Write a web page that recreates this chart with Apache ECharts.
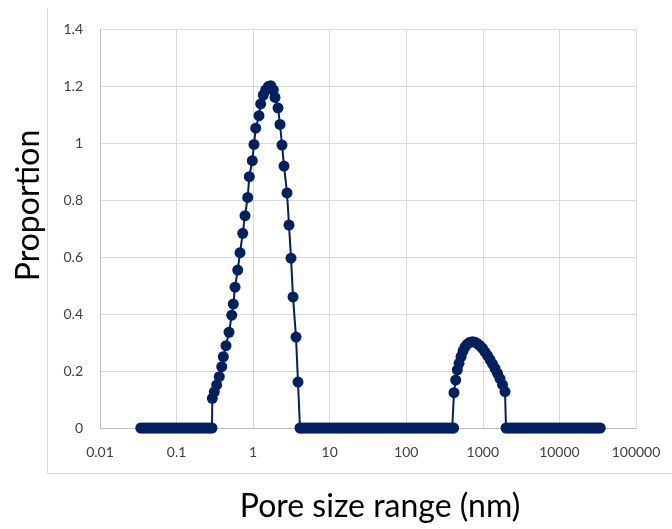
<!DOCTYPE html>
<html style="height: 100%">
<head>
<meta charset="utf-8">
</head>
<body style="height: 100%; margin: 0; background: #fff">
<div id="container" style="width: 672px; height: 529px"></div>
<script src="https://cdn.jsdelivr.net/npm/echarts@6/dist/echarts.min.js"></script>
<script>
// pore size (nm)
var poreSize = [
  // zeros before first peak
  0.0341, 0.0369, 0.0398, 0.043, 0.0464, 0.0501, 0.0541, 0.0584, 0.0631, 0.0681,
  0.0736, 0.0794, 0.0858, 0.0926, 0.1, 0.108, 0.117, 0.126, 0.136, 0.147,
  0.158, 0.171, 0.185, 0.2, 0.215, 0.233, 0.251, 0.271, 0.29,
  // first peak
  0.293, 0.311, 0.334, 0.361, 0.389, 0.408, 0.442, 0.484, 0.525, 0.551,
  0.58, 0.629, 0.674, 0.731, 0.783, 0.849, 0.891, 0.975, 1.026, 1.08,
  1.193, 1.255, 1.357, 1.459, 1.578, 1.696, 1.834, 1.93, 2.112, 2.243,
  2.382, 2.53, 2.769, 2.94, 3.122, 3.316, 3.628, 3.853,
  // zeros between peaks
  4.09, 4.3, 4.64, 5.01, 5.41, 5.84, 6.31, 6.81, 7.36, 7.94,
  8.58, 9.26, 10, 10.8, 11.7, 12.6, 13.6, 14.7, 15.8, 17.1,
  18.5, 20, 21.5, 23.3, 25.1, 27.1, 29.3, 31.6, 34.1, 36.9,
  39.8, 43, 46.4, 50.1, 54.1, 58.4, 63.1, 68.1, 73.6, 79.4,
  85.8, 92.6, 100, 108, 117, 126, 136, 147, 158, 171,
  185, 200, 215, 233, 251, 271, 293, 316, 341, 369,
  398, 415,
  // second peak
  420, 442, 464, 488, 519, 551, 585, 630, 680, 733,
  790, 851, 918, 990, 1067, 1150, 1240, 1337, 1441, 1553,
  1675, 1806, 1947,
  // zeros after
  2006, 2154, 2326, 2512, 2712, 2929, 3162, 3415, 3687, 3981,
  4299, 4642, 5012, 5412, 5843, 6310, 6813, 7356, 7943, 8577,
  9261, 10000, 10798, 11659, 12589, 13594, 14678, 15849, 17113, 18478,
  19953, 21544, 23263, 25119, 27123, 29286, 31623, 34146
];

var proportion = [
  0, 0, 0, 0, 0, 0, 0, 0, 0, 0,
  0, 0, 0, 0, 0, 0, 0, 0, 0, 0,
  0, 0, 0, 0, 0, 0, 0, 0, 0,

  0.104, 0.127, 0.151, 0.18, 0.215, 0.25, 0.289, 0.336, 0.396, 0.435,
  0.494, 0.554, 0.615, 0.683, 0.745, 0.809, 0.882, 0.938, 0.995, 1.052,
  1.096, 1.137, 1.168, 1.186, 1.198, 1.201, 1.186, 1.16, 1.123, 1.065,
  0.993, 0.919, 0.825, 0.712, 0.596, 0.46, 0.319, 0.161,

  0, 0, 0, 0, 0, 0, 0, 0, 0, 0,
  0, 0, 0, 0, 0, 0, 0, 0, 0, 0,
  0, 0, 0, 0, 0, 0, 0, 0, 0, 0,
  0, 0, 0, 0, 0, 0, 0, 0, 0, 0,
  0, 0, 0, 0, 0, 0, 0, 0, 0, 0,
  0, 0, 0, 0, 0, 0, 0, 0, 0, 0,
  0, 0,

  0.124, 0.168, 0.204, 0.227, 0.25, 0.27, 0.285, 0.295, 0.301, 0.303,
  0.301, 0.296, 0.289, 0.279, 0.267, 0.254, 0.24, 0.225, 0.209, 0.192,
  0.173, 0.152, 0.128,

  0, 0, 0, 0, 0, 0, 0, 0, 0, 0,
  0, 0, 0, 0, 0, 0, 0, 0, 0, 0,
  0, 0, 0, 0, 0, 0, 0, 0, 0, 0,
  0, 0, 0, 0, 0, 0, 0, 0
];

var xTickLabels = ['0.01', '0.1', '1', '10', '100', '1000', '10000', '100000'];

var dom = document.getElementById('container');
var myChart = echarts.init(dom);

var points = poreSize.map(function (s, i) { return [s, proportion[i]]; });

var option = {
  animation: false,
  backgroundColor: '#ffffff',
  textStyle: { fontFamily: 'Lato' },
  grid: { left: 100, right: 36, top: 29, bottom: 101, outerBoundsMode: 'none', containLabel: false },
  graphic: [
    { type: 'line', shape: { x1: 47.5, y1: 8, x2: 47.5, y2: 473.5 }, style: { stroke: '#d9d9d9', lineWidth: 1 } },
    { type: 'line', shape: { x1: 47.5, y1: 473.5, x2: 672, y2: 473.5 }, style: { stroke: '#d9d9d9', lineWidth: 1 } }
  ],
  xAxis: {
    type: 'log',
    logBase: 10,
    min: 0.01,
    max: 100000,
    name: 'Pore size range (nm)',
    nameLocation: 'middle',
    nameGap: 63,
    nameTextStyle: { fontSize: 32, color: '#000', fontFamily: 'Lato', padding: [0, 0, 0, 24] },
    axisLine: { lineStyle: { color: '#bfbfbf', width: 1 } },
    axisTick: { show: false },
    axisLabel: {
      color: '#404040', fontSize: 14, margin: 17,
      formatter: function (v, i) { return xTickLabels[i]; }
    },
    splitLine: { show: true, lineStyle: { color: '#d9d9d9', width: 1 } },
    minorTick: { show: false }
  },
  yAxis: {
    type: 'value',
    min: 0,
    max: 1.4,
    interval: 0.2,
    name: 'Proportion',
    nameLocation: 'middle',
    nameGap: 55,
    nameTextStyle: { fontSize: 32, color: '#000', fontFamily: 'Lato', padding: [0, 0, 0, 46] },
    axisLine: { show: true, lineStyle: { color: '#bfbfbf', width: 1 } },
    axisTick: { show: false },
    axisLabel: { color: '#404040', fontSize: 14, margin: 17 },
    splitLine: { show: true, lineStyle: { color: '#d9d9d9', width: 1 } }
  },
  series: [
    {
      type: 'line',
      data: points,
      symbol: 'circle',
      symbolSize: 11,
      showAllSymbol: true,
      lineStyle: { color: '#002060', width: 2 },
      itemStyle: { color: '#002060' }
    }
  ]
};

myChart.setOption(option);
</script>
</body>
</html>
